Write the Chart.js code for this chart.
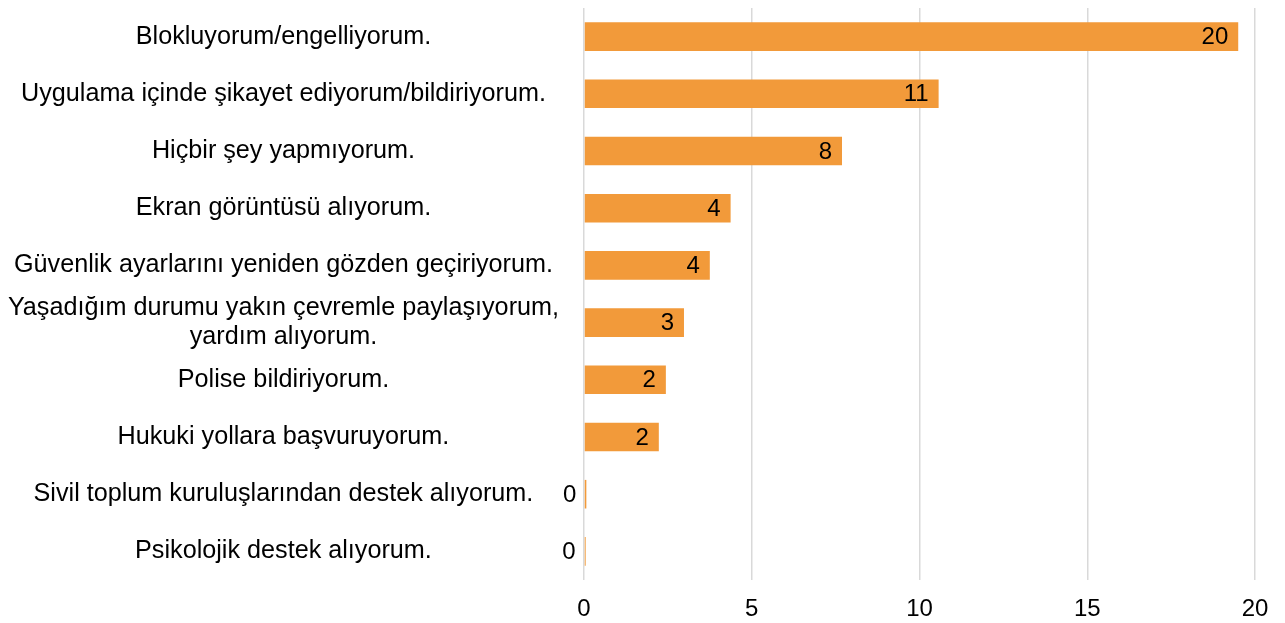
<!DOCTYPE html>
<html>
<head>
<meta charset="utf-8">
<script src="https://cdn.jsdelivr.net/npm/chart.js@4/dist/chart.umd.min.js"></script>
<style>
  html, body { margin: 0; padding: 0; background: #fff; }
  #wrap { width: 1285px; height: 623px; position: relative; }
</style>
</head>
<body>
<div id="wrap"><canvas id="c"></canvas></div>
<script>
const categories = [
  "Blokluyorum/engelliyorum.",
  "Uygulama içinde şikayet ediyorum/bildiriyorum.",
  "Hiçbir şey yapmıyorum.",
  "Ekran görüntüsü alıyorum.",
  "Güvenlik ayarlarını yeniden gözden geçiriyorum.",
  ["Yaşadığım durumu yakın çevremle paylaşıyorum,", "yardım alıyorum."],
  "Polise bildiriyorum.",
  "Hukuki yollara başvuruyorum.",
  "Sivil toplum kuruluşlarından destek alıyorum.",
  "Psikolojik destek alıyorum."
];
const values = [19.5, 10.57, 7.69, 4.37, 3.75, 2.98, 2.44, 2.23, 0.07, 0.05];
const valueLabels = ["20", "11", "8", "4", "4", "3", "2", "2", "0", "0"];
const xTicks = [0, 5, 10, 15, 20];

const FONT = "'Liberation Sans', Arial, sans-serif";

const dataLabelPlugin = {
  id: 'dataLabels',
  afterDatasetsDraw(chart) {
    const ctx = chart.ctx;
    const meta = chart.getDatasetMeta(0);
    ctx.save();
    ctx.font = "24px " + FONT;
    ctx.fillStyle = "#000";
    ctx.textAlign = "right";
    ctx.textBaseline = "middle";
    meta.data.forEach((el, i) => {
      ctx.fillText(valueLabels[i], el.x - 10, el.y + 1);
    });
    ctx.restore();
  }
};

new Chart(document.getElementById('c'), {
  type: 'bar',
  data: {
    labels: categories,
    datasets: [{
      data: values,
      backgroundColor: '#F29A3A',
      borderWidth: 0,
      barPercentage: 0.5,
      categoryPercentage: 1.0
    }]
  },
  options: {
    indexAxis: 'y',
    responsive: true,
    maintainAspectRatio: false,
    animation: false,
    layout: { padding: { top: 8, right: 30, left: 0, bottom: 0 } },
    plugins: {
      legend: { display: false },
      tooltip: { enabled: false }
    },
    scales: {
      x: {
        min: 0,
        max: 20,
        afterBuildTicks(scale) {
          scale.ticks = xTicks.map(v => ({ value: v }));
        },
        grid: { color: '#d9d9d9', lineWidth: 1.5, drawTicks: false },
        border: { display: false },
        ticks: {
          padding: 15,
          color: '#000',
          font: { family: FONT, size: 24 }
        },
        afterFit(scale) { scale.height = 43; }
      },
      y: {
        grid: { display: false, drawTicks: false },
        border: { display: false },
        ticks: {
          crossAlign: 'center',
          padding: 25,
          autoSkip: false,
          color: '#000',
          font: { family: FONT, size: 25.2, lineHeight: 1.15 }
        },
        afterFit(scale) {
          scale.width = 584;
          scale.paddingTop = 0;
          scale.paddingBottom = 0;
        }
      }
    }
  },
  plugins: [dataLabelPlugin]
});
</script>
</body>
</html>
